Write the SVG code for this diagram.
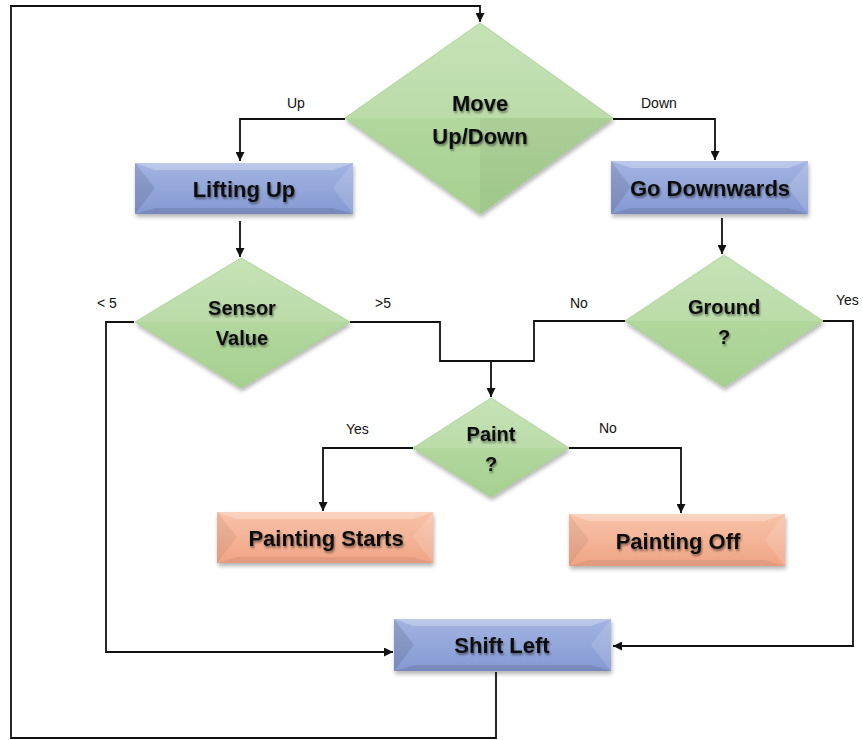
<svg xmlns="http://www.w3.org/2000/svg" width="863" height="740" viewBox="0 0 863 740">
<style>
.edge{fill:none;stroke:#111;stroke-width:1.8}
.lbl{font-family:"Liberation Sans",Arial,sans-serif;font-size:14px;fill:#111}
.t{font-family:"Liberation Sans",Arial,sans-serif;font-weight:bold;fill:#111;text-anchor:middle;filter:url(#ts)}
.t1{font-size:22px}
.t2{font-size:20px}
.dia{stroke:#a2cc8a;stroke-width:0.8;fill:url(#gg)}
.dl{fill:#fff;opacity:0.12}
.dd{fill:#000;opacity:0.04}
.bl{fill:#fff;opacity:0.28}
.bd{fill:#000;opacity:0.1}
.bl2{fill:#fff;opacity:0.14}
</style>
<defs>
<marker id="ah" viewBox="0 0 10 10" refX="10" refY="5" markerWidth="5" markerHeight="5" orient="auto" markerUnits="strokeWidth">
<path d="M0,0 L10,5 L0,10 z" fill="#111"/>
</marker>
<linearGradient id="gb" x1="0" y1="0" x2="0" y2="1">
<stop offset="0" stop-color="#a3b4e2"/><stop offset="1" stop-color="#8599d2"/>
</linearGradient>
<linearGradient id="go" x1="0" y1="0" x2="0" y2="1">
<stop offset="0" stop-color="#f8c3a9"/><stop offset="1" stop-color="#f0a485"/>
</linearGradient>
<linearGradient id="gg" x1="0" y1="0" x2="0" y2="1">
<stop offset="0" stop-color="#bfdfad"/><stop offset="1" stop-color="#a6d08f"/>
</linearGradient>
<filter id="sh" x="-10%" y="-10%" width="130%" height="140%">
<feGaussianBlur in="SourceAlpha" stdDeviation="2"/>
<feOffset dx="1" dy="3" result="o"/>
<feComponentTransfer><feFuncA type="linear" slope="0.3"/></feComponentTransfer>
<feMerge><feMergeNode/><feMergeNode in="SourceGraphic"/></feMerge>
</filter>
<filter id="ts" x="-10%" y="-20%" width="130%" height="160%">
<feGaussianBlur in="SourceAlpha" stdDeviation="1.2"/>
<feOffset dx="1" dy="1.5"/>
<feComponentTransfer><feFuncA type="linear" slope="0.45"/></feComponentTransfer>
<feMerge><feMergeNode/><feMergeNode in="SourceGraphic"/></feMerge>
</filter>
</defs>
<rect width="863" height="740" fill="#fff"/>

<g id="connectors">
<path class="edge" d="M496,672 V738 H11 V6 H480 V22" marker-end="url(#ah)"/>
<path class="edge" d="M345,119 H240 V161" marker-end="url(#ah)"/>
<path class="edge" d="M613,119 H715 V160" marker-end="url(#ah)"/>
<path class="edge" d="M240,221 V257" marker-end="url(#ah)"/>
<path class="edge" d="M722,218 V254" marker-end="url(#ah)"/>
<path class="edge" d="M134,322 H106 V652 H393" marker-end="url(#ah)"/>
<path class="edge" d="M350,322 H440 V361 H491"/>
<path class="edge" d="M625,321 H534 V361 H491 V397" marker-end="url(#ah)"/>
<path class="edge" d="M823,321 H853 V646 H613" marker-end="url(#ah)"/>
<path class="edge" d="M413,448 H323 V511" marker-end="url(#ah)"/>
<path class="edge" d="M569,448 H681 V513" marker-end="url(#ah)"/>
<text class="lbl" x="287" y="108">Up</text>
<text class="lbl" x="641" y="108">Down</text>
<text class="lbl" x="97" y="308">&lt; 5</text>
<text class="lbl" x="375" y="308">&gt;5</text>
<text class="lbl" x="570" y="308">No</text>
<text class="lbl" x="836" y="305">Yes</text>
<text class="lbl" x="346" y="434">Yes</text>
<text class="lbl" x="599" y="433">No</text>
</g>

<g id="move">
<g filter="url(#sh)">
<polygon class="dia" points="480,23 613,118 480,214 345,118"/>
<polygon class="dl" points="480,23 613,118 345,118"/>
<polygon class="dd" points="480,214 613,118 480,118"/>
</g>
<text class="t t1" x="480" y="111">Move</text>
<text class="t t1" x="480" y="144">Up/Down</text>
</g>

<g id="lifting">
<g filter="url(#sh)">
<rect x="135" y="163" width="218" height="51" fill="url(#gb)"/>
<polygon class="bl" points="135,163 353,163 333,170 155,170"/>
<polygon class="bd" points="135,163 155,188 135,214"/>
<polygon class="bl2" points="353,163 333,188 353,214"/>
<polygon class="bd" points="135,214 353,214 333,208 155,208"/>
</g>
<text class="t t1" x="244" y="197">Lifting Up</text>
</g>

<g id="godown">
<g filter="url(#sh)">
<rect x="611" y="161" width="197" height="53" fill="url(#gb)"/>
<polygon class="bl" points="611,161 808,161 788,168 631,168"/>
<polygon class="bd" points="611,161 631,187 611,214"/>
<polygon class="bl2" points="808,161 788,187 808,214"/>
<polygon class="bd" points="611,214 808,214 788,208 631,208"/>
</g>
<text class="t t1" x="710" y="196">Go Downwards</text>
</g>

<g id="sensor">
<g filter="url(#sh)">
<polygon class="dia" points="241,258 350,322 241,388 135,322"/>
<polygon class="dl" points="241,258 350,322 135,322"/>
</g>
<text class="t t2" x="242" y="315">Sensor</text>
<text class="t t2" x="242" y="345">Value</text>
</g>

<g id="ground">
<g filter="url(#sh)">
<polygon class="dia" points="724,255 823,321 724,387 625,321"/>
<polygon class="dl" points="724,255 823,321 625,321"/>
</g>
<text class="t t2" x="724" y="314">Ground</text>
<text class="t t2" x="724" y="344">?</text>
</g>

<g id="paint">
<g filter="url(#sh)">
<polygon class="dia" points="491,398 569,448 491,497 413,448"/>
<polygon class="dl" points="491,398 569,448 413,448"/>
</g>
<text class="t t2" x="491" y="441">Paint</text>
<text class="t t2" x="491" y="471">?</text>
</g>

<g id="pstart">
<g filter="url(#sh)">
<rect x="217" y="512" width="216" height="51" fill="url(#go)"/>
<polygon class="bl" points="217,512 433,512 413,519 237,519"/>
<polygon class="bd" points="217,512 237,537 217,563" style="opacity:0.06"/>
<polygon class="bl2" points="433,512 413,537 433,563"/>
<polygon class="bd" points="217,563 433,563 413,557 237,557" style="opacity:0.06"/>
</g>
<text class="t t1" x="326" y="546">Painting Starts</text>
</g>

<g id="poff">
<g filter="url(#sh)">
<rect x="569" y="514" width="216" height="52" fill="url(#go)"/>
<polygon class="bl" points="569,514 785,514 765,521 589,521"/>
<polygon class="bd" points="569,514 589,540 569,566" style="opacity:0.06"/>
<polygon class="bl2" points="785,514 765,540 785,566"/>
<polygon class="bd" points="569,566 785,566 765,560 589,560" style="opacity:0.06"/>
</g>
<text class="t t1" x="678" y="549">Painting Off</text>
</g>

<g id="shift">
<g filter="url(#sh)">
<rect x="394" y="619" width="217" height="52" fill="url(#gb)"/>
<polygon class="bl" points="394,619 611,619 591,626 414,626"/>
<polygon class="bd" points="394,619 414,645 394,671"/>
<polygon class="bl2" points="611,619 591,645 611,671"/>
<polygon class="bd" points="394,671 611,671 591,665 414,665"/>
</g>
<text class="t t1" x="502" y="653">Shift Left</text>
</g>
</svg>
